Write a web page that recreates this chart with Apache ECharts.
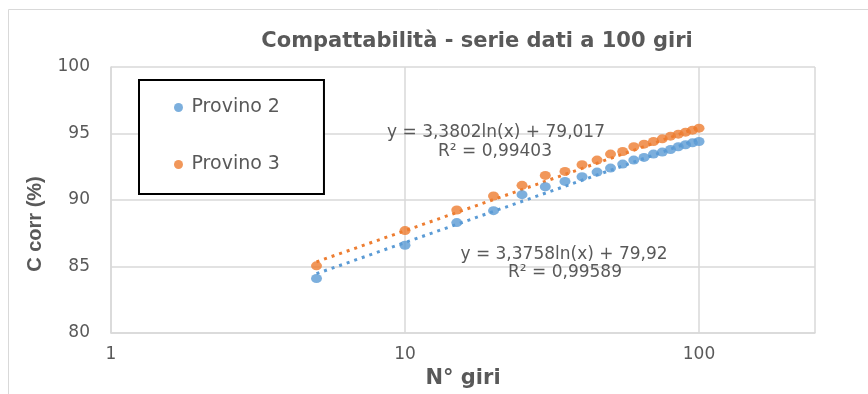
<!DOCTYPE html>
<html><head><meta charset="utf-8">
<script src="https://cdn.jsdelivr.net/npm/echarts@6/dist/echarts.min.js"></script>
<style>html,body{margin:0;padding:0;background:#fff}#c{width:868px;height:394px}</style>
</head><body><div id="c"></div>
<script>
const titleText = 'Compattabilità - serie dati a 100 giri';
const xName = 'N° giri';
const yName = 'C corr (%)';
const seriesNames = ['Provino 2', 'Provino 3'];
const nGiri    = [5, 10, 15, 20, 25, 30, 35, 40, 45, 50, 55, 60, 65, 70, 75, 80, 85, 90, 95, 100];
const provino2 = [84.1, 86.6, 88.3, 89.2, 90.4, 91.0, 91.4, 91.75, 92.1, 92.4, 92.7, 93.0, 93.2, 93.45, 93.6, 93.8, 94.0, 94.15, 94.3, 94.4];
const provino3 = [85.05, 87.7, 89.25, 90.3, 91.1, 91.85, 92.15, 92.65, 93.0, 93.45, 93.65, 94.0, 94.2, 94.4, 94.6, 94.8, 94.95, 95.1, 95.25, 95.4];
const trendX = [5, 100];
const trend2 = [84.46, 94.58];
const trend3 = [85.35, 95.47];
const eq2 = ['y = 3,3802ln(x) + 79,017', 'R² = 0,99403'];
const eq3 = ['y = 3,3758ln(x) + 79,92', 'R² = 0,99589'];

const blue = '#5B9BD5', orange = '#ED7D31', txt = '#595959', grid = '#d9d9d9';
const pairs = (xs, ys) => xs.map((x, i) => [x, ys[i]]);

const chart = echarts.init(document.getElementById('c'), null, {renderer: 'canvas'});
const eqStyle = {fill: txt, font: '17px "DejaVu Sans"', textAlign: 'center', textVerticalAlign: 'middle'};
chart.setOption({
  backgroundColor: '#fff',
  animation: false,
  title: {
    text: titleText, left: 477, top: 31, textAlign: 'center', padding: 0,
    textStyle: {color: txt, fontFamily: 'DejaVu Sans', fontWeight: 'bold', fontSize: 21}
  },
  graphic: [
    {type: 'rect', shape: {x: 8.5, y: 9.5, width: 900, height: 420}, style: {fill: 'none', stroke: grid, lineWidth: 1}, z: -1, silent: true},
    {type: 'text', x: 496, y: 133, style: Object.assign({text: eq2[0]}, eqStyle), z: 10},
    {type: 'text', x: 495, y: 152, style: Object.assign({text: eq2[1]}, eqStyle), z: 10},
    {type: 'text', x: 564, y: 255, style: Object.assign({text: eq3[0]}, eqStyle), z: 10},
    {type: 'text', x: 565, y: 273, style: Object.assign({text: eq3[1]}, eqStyle), z: 10}
  ],
  legend: {
    data: seriesNames, orient: 'vertical', left: 139, top: 80,
    padding: [18, 44, 20, 35], itemGap: 38, itemWidth: 10, itemHeight: 9, icon: 'circle',
    borderColor: '#000', borderWidth: 2, backgroundColor: '#fff',
    textStyle: {color: txt, fontFamily: 'DejaVu Sans', fontSize: 19, lineHeight: 18, padding: [0, 0, 0, 3]}
  },
  grid: {left: 111, right: 53, top: 67, bottom: 61},
  xAxis: {
    type: 'log', logBase: 10, min: 1, max: 248,
    name: xName, nameLocation: 'middle', nameGap: 35,
    nameTextStyle: {color: txt, fontFamily: 'DejaVu Sans', fontWeight: 'bold', fontSize: 21},
    axisLine: {show: true, lineStyle: {color: grid, width: 1.5}},
    axisTick: {show: false},
    axisLabel: {color: txt, fontFamily: 'DejaVu Sans', fontSize: 17, margin: 13, showMaxLabel: false},
    splitLine: {show: true, lineStyle: {color: grid, width: 1.5}},
    minorSplitLine: {show: false}
  },
  yAxis: {
    type: 'value', min: 80, max: 100, interval: 5,
    name: yName, nameLocation: 'middle', nameGap: 66,
    nameTextStyle: {color: txt, fontFamily: 'Liberation Sans', fontWeight: 'bold', fontSize: 20, padding: [0, 48, 0, 0]},
    axisLine: {show: true, lineStyle: {color: grid, width: 1.5}},
    axisTick: {show: false},
    axisLabel: {color: txt, fontFamily: 'DejaVu Sans', fontSize: 17, margin: 21},
    splitLine: {show: true, lineStyle: {color: grid, width: 1.5}}
  },
  series: [
    {name: 'trend2', type: 'line', data: pairs(trendX, trend2), symbol: 'none', z: 2,
     lineStyle: {color: blue, width: 3, type: [3, 5]}, silent: true},
    {name: 'trend3', type: 'line', data: pairs(trendX, trend3), symbol: 'none', z: 2,
     lineStyle: {color: orange, width: 3, type: [3, 5]}, silent: true},
    {name: seriesNames[0], type: 'scatter', data: pairs(nGiri, provino2), symbol: 'circle', symbolSize: [11, 9],
     itemStyle: {color: blue}, z: 3},
    {name: seriesNames[1], type: 'scatter', data: pairs(nGiri, provino3), symbol: 'circle', symbolSize: [11, 9],
     itemStyle: {color: orange}, z: 3}
  ]
});
</script></body></html>
